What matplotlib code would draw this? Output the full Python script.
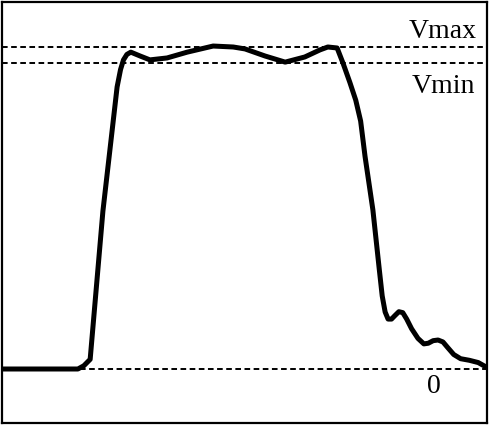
import matplotlib
matplotlib.use("Agg")
from matplotlib import pyplot as plt

# pulse response, time in arbitrary units, voltage normalised to Vmax
t = [0.0, 1.59, 1.71, 1.84, 2.10, 2.39, 2.46, 2.52, 2.59, 2.67, 2.86, 3.06,
     3.41, 3.82, 4.35, 4.76, 5.00, 5.41, 5.82, 6.22, 6.53, 6.69, 6.88, 7.00,
     7.14, 7.26, 7.36, 7.45, 7.61, 7.74, 7.80, 7.86, 7.92, 7.99, 8.06, 8.14,
     8.22, 8.30, 8.40, 8.53, 8.65, 8.74, 8.84, 8.94, 9.04, 9.14, 9.26, 9.40,
     9.58, 9.76, 9.96]
v = [0.0, 0.0, 0.01, 0.03, 0.49, 0.876, 0.930, 0.960, 0.977, 0.984, 0.972,
     0.960, 0.966, 0.984, 1.003, 1.0, 0.994, 0.972, 0.953, 0.969, 0.991,
     1.0, 0.997, 0.950, 0.890, 0.835, 0.770, 0.660, 0.494, 0.310, 0.227,
     0.177, 0.155, 0.155, 0.166, 0.178, 0.175, 0.155, 0.125, 0.095, 0.078,
     0.080, 0.088, 0.090, 0.084, 0.066, 0.045, 0.032, 0.027, 0.020, 0.003]

v_max = 1.0
v_min = 0.950
v_zero = 0.0
t_rise = 1.63

fig = plt.figure()
fig.set_dpi(100)
fig.set_size_inches(4.9, 4.26)

ax = fig.add_axes([1.5 / 490, 3 / 426, 485 / 490, 421.5 / 426])
ax.set_xlim(1.5 / 49, 486.5 / 49)
ax.set_ylim((369 - 423) / 322, (369 - 1.5) / 322)

dash = dict(color='black', lw=1.4, linestyle=(0, (2.9, 1.8)))
ax.axhline(v_max, **dash)
ax.axhline(v_min, **dash)
ax.plot([t_rise, 10], [v_zero, v_zero], **dash)

ax.plot(t, v, color='black', lw=3.6, solid_joinstyle='round')

serif = ['Liberation Serif', 'DejaVu Serif']
ax.text(9.04, 1.047, 'Vmax', family=serif, fontsize=20, ha='center', va='center')
ax.text(9.04, 0.878, 'Vmin', family=serif, fontsize=20, ha='center', va='center')
ax.text(8.86, -0.053, '0', family=serif, fontsize=20, ha='center', va='center')

ax.set_xticks([])
ax.set_yticks([])
for s in ax.spines.values():
	s.set_linewidth(1.6)

fig.savefig('out.png', dpi=100)
